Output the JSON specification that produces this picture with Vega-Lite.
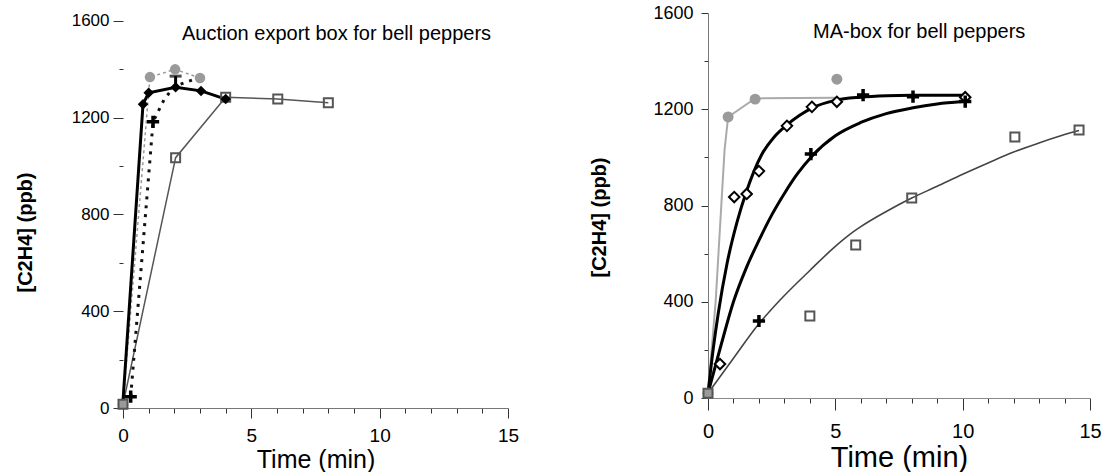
{
  "$schema": "https://vega.github.io/schema/vega-lite/v6.json",
  "padding": {"left": 15, "top": 4, "right": 5, "bottom": 0},
  "autosize": {"type": "pad"},
  "bounds": "flush",
  "spacing": 200,
  "config": {
    "view": {"stroke": null},
    "font": "Liberation Sans",
    "title": {"font": "Liberation Sans", "fontSize": 20, "fontWeight": "normal", "color": "#000", "anchor": "start", "frame": "group", "baseline": "middle", "offset": 0},
    "axis": {"grid": false, "labelColor": "#000", "titleColor": "#000", "domainColor": "#333", "tickColor": "#333", "labelFont": "Liberation Sans", "titleFont": "Liberation Sans", "labelFlush": false, "labelOverlap": false, "format": "d"}
  },
  "datasets": {
    "Lpts": [
      {"s": "circle", "t": 0, "v": 15}, {"s": "circle", "t": 1.05, "v": 1368}, {"s": "circle", "t": 2.03, "v": 1400}, {"s": "circle", "t": 3.0, "v": 1364},
      {"s": "diamond", "t": 0.78, "v": 1256}, {"s": "diamond", "t": 1.0, "v": 1303}, {"s": "diamond", "t": 2.05, "v": 1326}, {"s": "diamond", "t": 3.04, "v": 1311}, {"s": "diamond", "t": 4.0, "v": 1277},
      {"s": "plus", "t": 0.3, "v": 47}, {"s": "plus", "t": 1.17, "v": 1183},
      {"s": "square", "t": 0, "v": 15}, {"s": "square", "t": 2.05, "v": 1035}, {"s": "square", "t": 4.0, "v": 1285}, {"s": "square", "t": 6.03, "v": 1277}, {"s": "square", "t": 8.0, "v": 1262}
    ],
    "Llines": [
      {"s": "circle", "t": 0, "v": 15}, {"s": "circle", "t": 1.05, "v": 1368}, {"s": "circle", "t": 2.03, "v": 1400}, {"s": "circle", "t": 3.0, "v": 1364},
      {"s": "diamond", "t": 0, "v": 30}, {"s": "diamond", "t": 0.78, "v": 1256}, {"s": "diamond", "t": 1.0, "v": 1303}, {"s": "diamond", "t": 2.05, "v": 1326}, {"s": "diamond", "t": 3.04, "v": 1311}, {"s": "diamond", "t": 4.0, "v": 1277},
      {"s": "plus", "t": 0.3, "v": 47}, {"s": "plus", "t": 1.17, "v": 1183}, {"s": "plus", "t": 1.6, "v": 1275}, {"s": "plus", "t": 2.0, "v": 1330}, {"s": "plus", "t": 2.7, "v": 1356},
      {"s": "square", "t": 0, "v": 15}, {"s": "square", "t": 2.05, "v": 1035}, {"s": "square", "t": 4.0, "v": 1285}, {"s": "square", "t": 6.03, "v": 1277}, {"s": "square", "t": 8.0, "v": 1262}
    ],
    "Lerr": [{"t": 2.05, "lo": 1326, "hi": 1372}],
    "Rpts": [
      {"s": "circle", "t": 0, "v": 20}, {"s": "circle", "t": 0.79, "v": 1168}, {"s": "circle", "t": 1.85, "v": 1242}, {"s": "circle", "t": 5.06, "v": 1325},
      {"s": "diamond", "t": 0.47, "v": 141}, {"s": "diamond", "t": 1.03, "v": 835}, {"s": "diamond", "t": 1.52, "v": 848}, {"s": "diamond", "t": 2.0, "v": 943}, {"s": "diamond", "t": 3.1, "v": 1131}, {"s": "diamond", "t": 4.08, "v": 1210}, {"s": "diamond", "t": 5.06, "v": 1231}, {"s": "diamond", "t": 10.1, "v": 1250},
      {"s": "plus", "t": 2.0, "v": 320}, {"s": "plus", "t": 4.04, "v": 1014}, {"s": "plus", "t": 6.09, "v": 1259}, {"s": "plus", "t": 8.05, "v": 1252}, {"s": "plus", "t": 10.1, "v": 1232},
      {"s": "square", "t": 0, "v": 20}, {"s": "square", "t": 4.0, "v": 341}, {"s": "square", "t": 5.8, "v": 636}, {"s": "square", "t": 8.0, "v": 831}, {"s": "square", "t": 12.05, "v": 1085}, {"s": "square", "t": 14.57, "v": 1114}
    ],
    "Rlines": [
      {"s": "circle", "t": 0, "v": 20}, {"s": "circle", "t": 0.3, "v": 400}, {"s": "circle", "t": 0.65, "v": 1030}, {"s": "circle", "t": 0.79, "v": 1168}, {"s": "circle", "t": 1.85, "v": 1245}, {"s": "circle", "t": 5.0, "v": 1248},
      {"s": "diamond", "t": 0, "v": 20}, {"s": "diamond", "t": 0.2, "v": 200}, {"s": "diamond", "t": 0.4, "v": 350}, {"s": "diamond", "t": 0.75, "v": 560}, {"s": "diamond", "t": 1.15, "v": 735}, {"s": "diamond", "t": 1.5, "v": 855}, {"s": "diamond", "t": 2.1, "v": 1010}, {"s": "diamond", "t": 2.6, "v": 1085}, {"s": "diamond", "t": 3.1, "v": 1135}, {"s": "diamond", "t": 3.6, "v": 1175}, {"s": "diamond", "t": 4.08, "v": 1205}, {"s": "diamond", "t": 5, "v": 1237}, {"s": "diamond", "t": 6, "v": 1250}, {"s": "diamond", "t": 7, "v": 1256}, {"s": "diamond", "t": 8, "v": 1258}, {"s": "diamond", "t": 10, "v": 1258},
      {"s": "plus", "t": 0, "v": 20}, {"s": "plus", "t": 0.5, "v": 215}, {"s": "plus", "t": 1, "v": 400}, {"s": "plus", "t": 1.5, "v": 540}, {"s": "plus", "t": 2, "v": 655}, {"s": "plus", "t": 2.5, "v": 760}, {"s": "plus", "t": 3, "v": 850}, {"s": "plus", "t": 3.5, "v": 930}, {"s": "plus", "t": 4.08, "v": 1005}, {"s": "plus", "t": 5, "v": 1090}, {"s": "plus", "t": 6, "v": 1145}, {"s": "plus", "t": 7, "v": 1182}, {"s": "plus", "t": 8, "v": 1205}, {"s": "plus", "t": 9, "v": 1222}, {"s": "plus", "t": 10, "v": 1232},
      {"s": "square", "t": 0, "v": 20}, {"s": "square", "t": 1, "v": 165}, {"s": "square", "t": 1.96, "v": 303}, {"s": "square", "t": 2.83, "v": 407}, {"s": "square", "t": 4, "v": 530}, {"s": "square", "t": 5, "v": 630}, {"s": "square", "t": 5.7, "v": 690}, {"s": "square", "t": 6, "v": 712}, {"s": "square", "t": 7, "v": 775}, {"s": "square", "t": 8, "v": 831}, {"s": "square", "t": 9, "v": 880}, {"s": "square", "t": 10, "v": 930}, {"s": "square", "t": 11, "v": 977}, {"s": "square", "t": 12, "v": 1022}, {"s": "square", "t": 13, "v": 1060}, {"s": "square", "t": 14, "v": 1095}, {"s": "square", "t": 14.57, "v": 1112}
    ]
  },
  "hconcat": [
    {
      "width": 385,
      "height": 395,
      "title": {"text": "Auction export box for bell peppers", "dx": 59, "dy": 36},
      "encoding": {
        "x": {"field": "t", "type": "quantitative", "scale": {"domain": [0, 15], "nice": false},
          "axis": {"title": "Time (min)", "titleFontSize": 25, "titleFontWeight": "normal", "labelFontSize": 19, "values": [0,1,2,3,4,5,6,7,8,9,10,11,12,13,14,15], "labelExpr": "datum.value % 5 === 0 ? datum.label : ''", "tickSize": {"condition": {"test": "datum.value % 5 === 0", "value": 10}, "value": 5}, "labelPadding": 8, "titlePadding": 2, "domainColor": "#777"}},
        "y": {"field": "v", "type": "quantitative", "scale": {"domain": [0, 1633], "nice": false},
          "axis": {"title": "[C2H4] (ppb)", "titleFontSize": 20, "titleFontWeight": "bold", "labelFontSize": 17, "values": [0,200,400,600,800,1000,1200,1400,1600], "labelExpr": "datum.value % 400 === 0 ? datum.label : ''", "tickSize": {"condition": {"test": "datum.value % 400 === 0", "value": 10}, "value": 4}, "domain": false, "labelPadding": 4, "titlePadding": 36, "titleY": 219}}
      },
      "layer": [
        {"data": {"values": [{}]}, "mark": {"type": "rule", "color": "#222", "strokeWidth": 1}, "encoding": {"x": {"datum": 0, "type": "quantitative"}, "y": {"datum": 0, "type": "quantitative"}, "y2": {"datum": 1600}}},
        {"data": {"name": "Llines"}, "transform": [{"filter": "datum.s === 'square'"}], "mark": {"type": "line", "color": "#555", "strokeWidth": 1.5}},
        {"data": {"name": "Llines"}, "transform": [{"filter": "datum.s === 'circle'"}], "mark": {"type": "line", "color": "#999", "strokeWidth": 1.5, "strokeDash": [3, 3]}},
        {"data": {"name": "Llines"}, "transform": [{"filter": "datum.s === 'plus'"}], "mark": {"type": "line", "color": "#111", "strokeWidth": 3, "strokeDash": [3, 6]}},
        {"data": {"name": "Llines"}, "transform": [{"filter": "datum.s === 'diamond'"}], "mark": {"type": "line", "color": "#000", "strokeWidth": 3}},
        {"data": {"name": "Lerr"}, "mark": {"type": "rule", "color": "#000", "strokeWidth": 3}, "encoding": {"y": {"field": "lo", "type": "quantitative"}, "y2": {"field": "hi"}}},
        {"data": {"name": "Lerr"}, "mark": {"type": "tick", "color": "#000", "orient": "horizontal", "size": 12, "thickness": 3}, "encoding": {"y": {"field": "hi", "type": "quantitative"}}},
        {"data": {"name": "Lpts"}, "transform": [{"filter": "datum.s === 'circle'"}], "mark": {"type": "point", "shape": "circle", "filled": true, "color": "#9a9a9a", "size": 110, "opacity": 1}},
        {"data": {"name": "Lpts"}, "transform": [{"filter": "datum.s === 'square'"}], "mark": {"type": "point", "shape": "square", "filled": false, "color": "#555", "strokeWidth": 2, "size": 81, "opacity": 1}},
        {"data": {"name": "Lpts"}, "transform": [{"filter": "datum.s === 'diamond'"}], "mark": {"type": "point", "shape": "diamond", "filled": true, "color": "#000", "size": 110, "opacity": 1}},
        {"data": {"name": "Lpts"}, "transform": [{"filter": "datum.s === 'plus'"}], "mark": {"type": "point", "shape": "M-1,0L1,0M0,-1L0,1", "filled": false, "color": "#000", "strokeWidth": 3.5, "size": 150, "opacity": 1}}
      ]
    },
    {
      "width": 382,
      "height": 385,
      "title": {"text": "MA-box for bell peppers", "dx": 105, "dy": 42},
      "encoding": {
        "x": {"field": "t", "type": "quantitative", "scale": {"domain": [0, 15], "nice": false},
          "axis": {"title": "Time (min)", "titleFontSize": 29, "titleFontWeight": "normal", "labelFontSize": 20, "values": [0,1,2,3,4,5,6,7,8,9,10,11,12,13,14,15], "labelExpr": "datum.value % 5 === 0 ? datum.label : ''", "tickSize": {"condition": {"test": "datum.value % 5 === 0", "value": 12}, "value": 5}, "labelPadding": 11, "titlePadding": 2, "domainColor": "#888"}},
        "y": {"field": "v", "type": "quantitative", "scale": {"domain": [0, 1600], "nice": false},
          "axis": {"title": "[C2H4] (ppb)", "titleFontSize": 20, "titleFontWeight": "bold", "labelFontSize": 18, "values": [0,200,400,600,800,1000,1200,1400,1600], "labelExpr": "datum.value % 400 === 0 ? datum.label : ''", "tickSize": {"condition": {"test": "datum.value % 400 === 0", "value": 7}, "value": 4}, "domainColor": "#777", "labelPadding": 8, "titlePadding": 43, "titleY": 204}}
      },
      "layer": [
        {"data": {"name": "Rlines"}, "transform": [{"filter": "datum.s === 'square'"}], "mark": {"type": "line", "color": "#444", "strokeWidth": 1.6, "interpolate": "monotone"}},
        {"data": {"name": "Rlines"}, "transform": [{"filter": "datum.s === 'circle'"}], "mark": {"type": "line", "color": "#aaa", "strokeWidth": 2}},
        {"data": {"name": "Rlines"}, "transform": [{"filter": "datum.s === 'plus'"}], "mark": {"type": "line", "color": "#000", "strokeWidth": 3, "interpolate": "monotone"}},
        {"data": {"name": "Rlines"}, "transform": [{"filter": "datum.s === 'diamond'"}], "mark": {"type": "line", "color": "#000", "strokeWidth": 3, "interpolate": "monotone"}},
        {"data": {"name": "Rpts"}, "transform": [{"filter": "datum.s === 'circle'"}], "mark": {"type": "point", "shape": "circle", "filled": true, "color": "#9a9a9a", "size": 120, "opacity": 1}},
        {"data": {"name": "Rpts"}, "transform": [{"filter": "datum.s === 'square'"}], "mark": {"type": "point", "shape": "square", "filled": false, "color": "#555", "strokeWidth": 2, "size": 81, "opacity": 1}},
        {"data": {"name": "Rpts"}, "transform": [{"filter": "datum.s === 'diamond'"}], "mark": {"type": "point", "shape": "diamond", "filled": true, "fill": "#fff", "stroke": "#000", "strokeWidth": 2, "size": 110, "opacity": 1}},
        {"data": {"name": "Rpts"}, "transform": [{"filter": "datum.s === 'plus'"}], "mark": {"type": "point", "shape": "M-1,0L1,0M0,-1L0,1", "filled": false, "color": "#000", "strokeWidth": 3.5, "size": 150, "opacity": 1}}
      ]
    }
  ]
}
